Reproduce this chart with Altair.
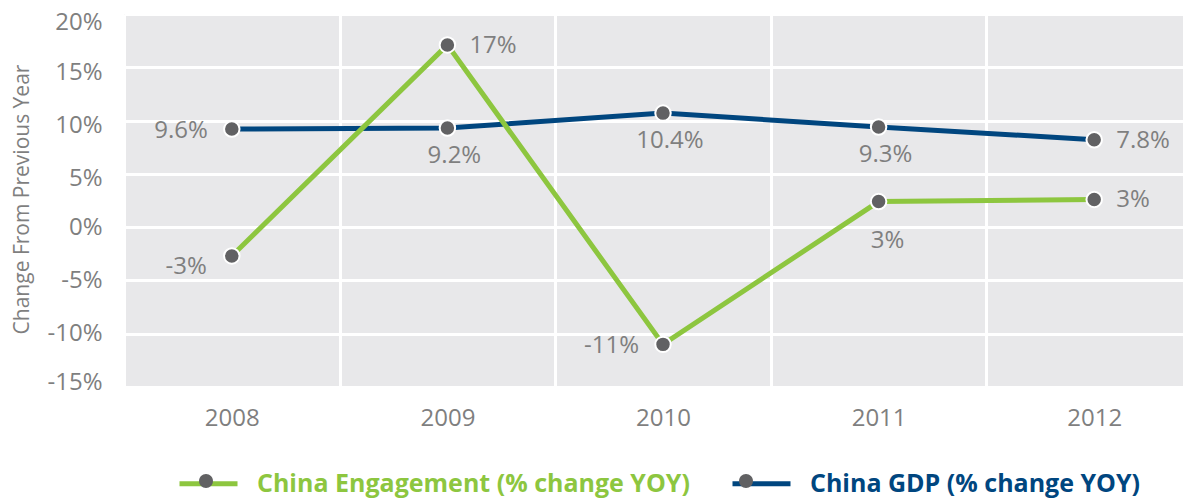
import altair as alt
import pandas as pd

# ---- data ----
years = ["2008", "2009", "2010", "2011", "2012"]
series_names = ["China Engagement (% change YOY)", "China GDP (% change YOY)"]
engagement = [-2.7, 17.1, -11.0, 2.4, 2.6]
engagement_labels = ["-3%", "17%", "-11%", "3%", "3%"]
gdp = [9.2, 9.3, 10.7, 9.4, 8.2]
gdp_labels = ["9.6%", "9.2%", "10.4%", "9.3%", "7.8%"]
y_ticks = [-15, -10, -5, 0, 5, 10, 15, 20]

# ---- styling ----
GREEN = "#8DC63F"
NAVY = "#00467F"
DOT = "#616163"
TXT = "#7F7F7F"
BG = "#E8E8EA"
FONT = "Open Sans"

rows = []
for s, vals, labs in [(series_names[0], engagement, engagement_labels),
                      (series_names[1], gdp, gdp_labels)]:
    for yr, v, lab in zip(years, vals, labs):
        rows.append({"year": yr, "series": s, "series_pt": s, "value": v,
                     "label": lab, "key": f"{s}|{yr}"})
df = pd.DataFrame(rows)

ENG, GDP = series_names

# label placement groups (style only)
placements = [
    # keys, align, dx, dy
    ([f"{GDP}|2008", f"{ENG}|2010"], "right", -24, 2),
    ([f"{ENG}|2008"], "right", -25, 11),
    ([f"{GDP}|2012", f"{ENG}|2009", f"{ENG}|2012"], "left", 22, 1),
    ([f"{GDP}|2009", f"{GDP}|2010", f"{GDP}|2011"], "center", 7, 28),
    ([f"{ENG}|2011"], "center", 9, 39),
]

x_enc = alt.X(
    "year:O",
    sort=years,
    scale=alt.Scale(range=[0, 1078], paddingInner=0, paddingOuter=0),
    axis=alt.Axis(title=None, tickBand="extent", grid=True, gridColor="white",
                  gridWidth=3, gridOpacity=1, domain=False, ticks=False, labelAngle=0,
                  labelFont=FONT, labelFontSize=24, labelColor=TXT, labelPadding=19),
)
y_enc = alt.Y(
    "value:Q",
    scale=alt.Scale(domain=[-15, 20], nice=False, zero=False),
    axis=alt.Axis(values=y_ticks, labelExpr="datum.value + '%'", grid=True,
                  gridColor="white", gridWidth=3, gridOpacity=1, domain=False, ticks=False,
                  labelPadding=22, labelFont=FONT, labelFontSize=24, labelColor=TXT,
                  labelOffset=alt.ExprRef(
                      expr="datum.value == 20 ? 8 : (datum.value >= 5 ? 5 : (datum.value == -15 ? -5 : 0))"),
                  title="Change From Previous Year", titleFont=FONT, titleFontSize=21,
                  titleFontWeight="normal", titleColor=TXT, titleAngle=270,
                  titleX=-102, titleY=185, titleAlign="center", titleBaseline="middle"),
)

LEG_X = 53
LEG_Y = 438
LEG_FS = 25
LEG_COLPAD = 32

color_enc = alt.Color(
    "series:N",
    scale=alt.Scale(domain=series_names, range=[GREEN, NAVY]),
    legend=alt.Legend(
        title=None, orient="none", legendX=LEG_X, legendY=LEG_Y, direction="horizontal",
        symbolType="stroke", symbolSize=3364, symbolStrokeWidth=5,
        labelFont=FONT, labelFontSize=LEG_FS, labelFontWeight="bold", labelLimit=0,
        labelOffset=17, columnPadding=LEG_COLPAD, zindex=1,
        labelColor=alt.ExprRef(expr=f"datum.value == '{GDP}' ? '{NAVY}' : '{GREEN}'"),
    ),
)

fill_enc = alt.Fill(
    "series_pt:N",
    scale=alt.Scale(range=[DOT, DOT]),
    legend=alt.Legend(
        title=None, orient="none", legendX=LEG_X, legendY=LEG_Y, direction="horizontal",
        symbolType="M0.24,0A0.24,0.24,0,1,1,-0.24,0A0.24,0.24,0,1,1,0.24,0Z",
        symbolSize=3364, symbolStrokeWidth=0, symbolFillColor=DOT,
        labelFont=FONT, labelFontSize=LEG_FS, labelFontWeight="bold", labelLimit=0,
        labelOffset=17, columnPadding=LEG_COLPAD, labelOpacity=0, zindex=2,
    ),
)

base = alt.Chart(df)

line_gdp = base.transform_filter(alt.datum.series == GDP).mark_line(
    strokeWidth=5).encode(x=x_enc, y=y_enc, color=color_enc)
line_eng = base.transform_filter(alt.datum.series == ENG).mark_line(
    strokeWidth=5).encode(x=x_enc, y=y_enc, color=color_enc)

points = base.mark_circle(size=240, stroke="white", strokeWidth=2, opacity=1).encode(
    x=x_enc, y=y_enc, fill=fill_enc)

texts = []
for keys, align, dx, dy in placements:
    texts.append(
        base.transform_filter(alt.FieldOneOfPredicate(field="key", oneOf=keys))
        .mark_text(font=FONT, fontSize=24, color=TXT, align=align, baseline="middle",
                   dx=dx, dy=dy)
        .encode(x=x_enc, y=y_enc, text="label:N")
    )

chart = alt.layer(line_gdp, line_eng, points, *texts).properties(
    width=1059, height=373,
    autosize=alt.AutoSizeParams(type="none"),
    padding={"left": 116, "top": 6, "right": 0, "bottom": 112},
    background="white",
).configure_view(fill=BG, strokeWidth=0)

chart.save("out.html", embed_options={"renderer": "svg", "actions": False})
